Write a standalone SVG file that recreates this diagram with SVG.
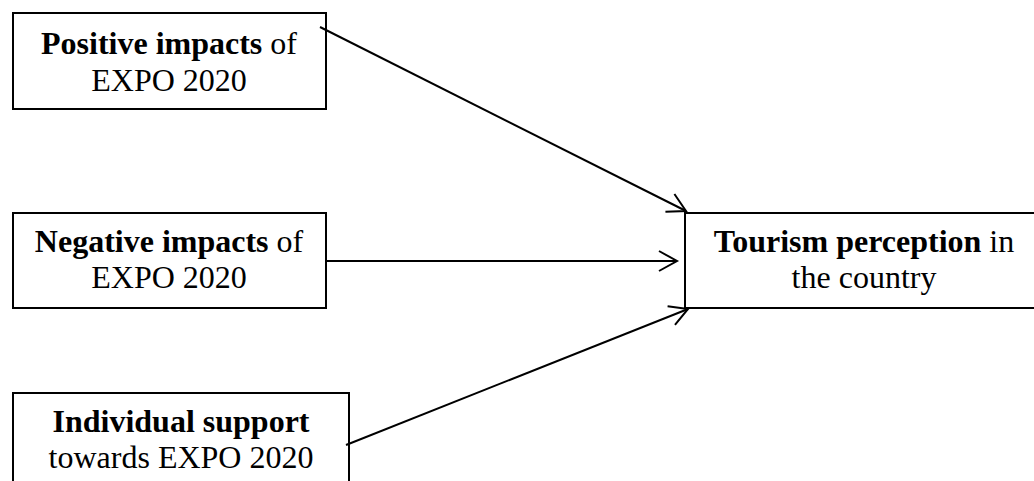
<svg xmlns="http://www.w3.org/2000/svg" width="1034" height="481" viewBox="0 0 1034 481">
<style>
.box{fill:#fff;stroke:#000;stroke-width:2}
.t{font-family:"Liberation Serif","Times New Roman",serif;font-size:32px;fill:#000;text-anchor:middle}
.b{font-weight:bold}
.c{stroke:#000;stroke-width:2;fill:none}
</style>
<defs>
<marker id="ah" markerUnits="userSpaceOnUse" markerWidth="24" markerHeight="26" viewBox="-20 -12 24 24" refX="0" refY="0" orient="auto" overflow="visible">
<path d="M-18,-10 L0,0 L-18,10" fill="none" stroke="#000" stroke-width="2"/>
</marker>
</defs>
<rect width="1034" height="481" fill="#fff"/>
<g id="n1">
<rect class="box" x="13" y="13" width="313" height="96"/>
<text class="t" x="169" y="54"><tspan class="b">Positive impacts</tspan> of</text>
<text class="t" x="169" y="91">EXPO 2020</text>
</g>
<g id="n2">
<rect class="box" x="13" y="213" width="313" height="95"/>
<text class="t" x="169" y="252"><tspan class="b">Negative impacts</tspan> of</text>
<text class="t" x="169" y="288">EXPO 2020</text>
</g>
<g id="n3">
<rect class="box" x="13" y="393" width="336" height="100"/>
<text class="t" x="181" y="432"><tspan class="b">Individual support</tspan></text>
<text class="t" x="181" y="468">towards EXPO 2020</text>
</g>
<g id="n4">
<rect class="box" x="685" y="213" width="360" height="95"/>
<text class="t" x="864" y="252"><tspan class="b">Tourism perception</tspan> in</text>
<text class="t" x="864" y="288">the country</text>
</g>
<g id="connectors">
<line class="c" x1="320" y1="27" x2="686" y2="211" marker-end="url(#ah)"/>
<line class="c" x1="326" y1="261" x2="677" y2="261" marker-end="url(#ah)"/>
<line class="c" x1="346" y1="445" x2="688" y2="309" marker-end="url(#ah)"/>
</g>
</svg>
